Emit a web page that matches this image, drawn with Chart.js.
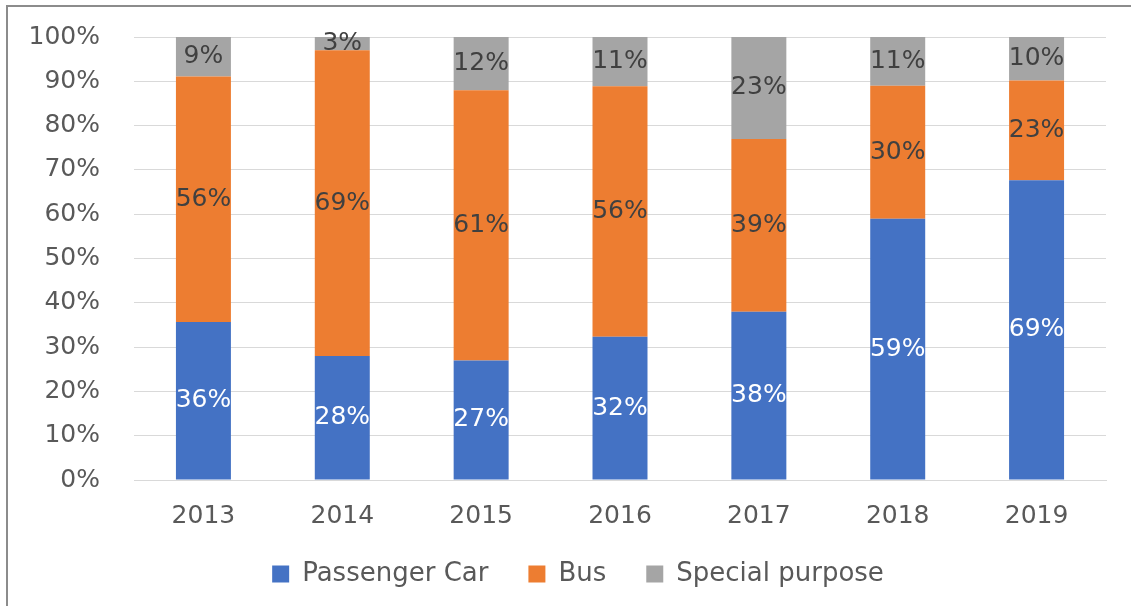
<!DOCTYPE html>
<html>
<head>
<meta charset="utf-8">
<script src="https://cdn.jsdelivr.net/npm/chart.js@4.4.1/dist/chart.umd.min.js"></script>
<style>
    html, body { margin: 0; padding: 0; background: #fff; overflow: hidden; }
    #wrap { position: absolute; left: 0; top: 0; width: 1131px; height: 606px; }
    #frame {
        position: absolute; left: 6px; top: 5px; width: 2000px; height: 2000px;
        border-left: 2px solid #8c8c8c; border-top: 2px solid #8c8c8c;
        pointer-events: none;
    }
</style>
</head>
<body>
<div id="wrap"><canvas id="shareChart"></canvas></div>
<div id="frame"></div>
<script>
// Vehicle mix by year (percent of total)
const years = ["2013", "2014", "2015", "2016", "2017", "2018", "2019"];
const passengerCar = [36, 28, 27, 32, 38, 59, 69];
const bus = [56, 69, 61, 56, 39, 30, 23];
const specialPurpose = [9, 3, 12, 11, 23, 11, 10];
const yTicks = [0, 10, 20, 30, 40, 50, 60, 70, 80, 90, 100];

const FONT = "DejaVu Sans";
const textGray = '#595959';

// 100% stacked: scale each year so the three parts fill the column
const totals = years.map((_, i) => passengerCar[i] + bus[i] + specialPurpose[i]);
const share = arr => arr.map((v, i) => v / totals[i] * 100);

const seriesRaw = [passengerCar, bus, specialPurpose];
const labelColors = ['#ffffff', '#404040', '#404040'];

// Draws the value in the middle of each bar segment
const segmentLabels = {
    id: 'segmentLabels',
    afterDatasetsDraw(chart) {
        const ctx = chart.ctx;
        ctx.save();
        ctx.font = '25px "' + FONT + '"';
        ctx.textAlign = 'center';
        ctx.textBaseline = 'middle';
        chart.data.datasets.forEach((ds, di) => {
            const meta = chart.getDatasetMeta(di);
            ctx.fillStyle = labelColors[di];
            meta.data.forEach((bar, i) => {
                const midY = (bar.y + bar.base) / 2;
                ctx.fillText(seriesRaw[di][i] + '%', bar.x, midY);
            });
        });
        ctx.restore();
    }
};

// Nudge the legend box: a bit right and up from where the layout puts it
const legendOffset = {
    id: 'legendOffset',
    afterLayout(chart) {
        const lg = chart.legend;
        if (!lg) return;
        lg.left += 25;
        lg.right += 25;
        lg.top -= 9;
        lg.bottom -= 9;
    }
};

const ctx = document.getElementById('shareChart').getContext('2d');
new Chart(ctx, {
    type: 'bar',
    data: {
        labels: years,
        datasets: [
            { label: 'Passenger Car', data: share(passengerCar), backgroundColor: '#4472C4' },
            { label: 'Bus', data: share(bus), backgroundColor: '#ED7D31' },
            { label: 'Special purpose', data: share(specialPurpose), backgroundColor: '#A5A5A5' }
        ]
    },
    options: {
        responsive: true,
        maintainAspectRatio: false,
        animation: false,
        datasets: {
            bar: { categoryPercentage: 1, barPercentage: 0.396 }
        },
        layout: { padding: { top: 37, right: 25, left: 0, bottom: 0 } },
        plugins: {
            tooltip: { enabled: false },
            legend: {
                position: 'bottom',
                labels: {
                    color: textGray,
                    font: { family: FONT, size: 26 },
                    boxWidth: 17,
                    boxHeight: 17,
                    padding: 40
                }
            }
        },
        scales: {
            x: {
                stacked: true,
                grid: { display: false },
                border: { color: '#d9d9d9' },
                ticks: {
                    color: textGray,
                    font: { family: FONT, size: 25 },
                    padding: 13
                },
                afterFit(scale) {
                    scale.height = 50;
                    scale.paddingLeft = 0;
                    scale.paddingRight = 0;
                }
            },
            y: {
                stacked: true,
                min: 0,
                max: 100,
                afterBuildTicks(scale) { scale.ticks = yTicks.map(v => ({ value: v })); },
                grid: { color: '#d9d9d9', drawTicks: false },
                border: { display: false },
                ticks: {
                    color: textGray,
                    font: { family: FONT, size: 25 },
                    padding: 34,
                    callback: v => v + '%'
                },
                afterFit(scale) {
                    scale.width = 134;
                    scale.paddingTop = 0;
                    scale.paddingBottom = 0;
                }
            }
        }
    },
    plugins: [segmentLabels, legendOffset]
});
</script>
</body>
</html>
